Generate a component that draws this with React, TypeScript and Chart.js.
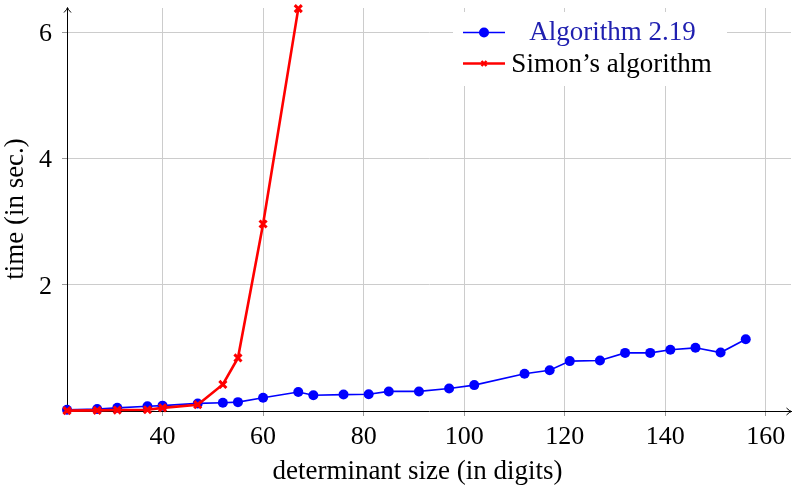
import React, { useEffect, useRef } from "react";
import { Chart, registerables } from "chart.js";
Chart.register(...registerables);

const algX = [21, 27, 31, 37, 40, 47, 52, 55, 60, 67, 70, 76, 81, 85, 91, 97, 102, 112, 117, 121, 127, 132, 137, 141, 146, 151, 156];
const algY = [0.02, 0.03, 0.05, 0.075, 0.085, 0.12, 0.13, 0.14, 0.21, 0.3, 0.25, 0.26, 0.265, 0.31, 0.31, 0.355, 0.41, 0.59, 0.645, 0.79, 0.8, 0.92, 0.92, 0.97, 1.0, 0.925, 1.135];
const simX = [21, 27, 31, 37, 40, 47, 52, 55, 60, 67];
const simY = [0.006, 0.01, 0.015, 0.02, 0.05, 0.1, 0.42, 0.84, 2.96, 6.37];
const xTicks = [40, 60, 80, 100, 120, 140, 160];
const yTicks = [2, 4, 6];
const seriesNames = ["Algorithm 2.19", "Simon\u2019s algorithm"];
const xTitle = "determinant size (in digits)";
const yTitle = "time (in sec.)";

const FONT = '"Liberation Serif", "Times New Roman", serif';
const BLUE = "#0000ff";
const RED = "#ff0000";

function drawCross(ctx: CanvasRenderingContext2D, x: number, y: number, r: number, lw: number) {
  ctx.save();
  ctx.strokeStyle = RED;
  ctx.lineWidth = lw;
  ctx.beginPath();
  ctx.moveTo(x - r, y - r);
  ctx.lineTo(x + r, y + r);
  ctx.moveTo(x - r, y + r);
  ctx.lineTo(x + r, y - r);
  ctx.stroke();
  ctx.restore();
}

const customPlugin = {
  id: "customDecor",
  afterDraw(chart: any) {
    const ctx: CanvasRenderingContext2D = chart.ctx;
    const xs = chart.scales.x;
    const ys = chart.scales.y;
    const ca = chart.chartArea;
    ctx.save();
    // arrows
    ctx.strokeStyle = "#000";
    ctx.lineWidth = 1;
    const bx = ca.right + 0.5;
    const by = Math.round(ca.bottom) + 0.5;
    ctx.beginPath();
    ctx.moveTo(bx - 5, by - 3.5);
    ctx.quadraticCurveTo(bx - 2, by - 0.5, bx, by);
    ctx.quadraticCurveTo(bx - 2, by + 0.5, bx - 5, by + 3.5);
    ctx.stroke();
    ctx.beginPath();
    ctx.moveTo(ca.right - 6, by);
    ctx.lineTo(bx, by);
    ctx.stroke();
    const lx = Math.round(ca.left) + 0.5;
    const ly = ca.top - 0.5;
    ctx.beginPath();
    ctx.moveTo(lx - 3.5, ly + 5);
    ctx.quadraticCurveTo(lx - 0.5, ly + 2, lx, ly);
    ctx.quadraticCurveTo(lx + 0.5, ly + 2, lx + 3.5, ly + 5);
    ctx.stroke();

    // tick labels
    ctx.fillStyle = "#000";
    ctx.font = `26px ${FONT}`;
    ctx.textAlign = "center";
    ctx.textBaseline = "alphabetic";
    xTicks.forEach((v) => {
      ctx.fillText(String(v), xs.getPixelForValue(v), 444);
    });
    ctx.textAlign = "right";
    yTicks.forEach((v) => {
      ctx.fillText(String(v), 52, ys.getPixelForValue(v) + 9);
    });

    // axis titles
    ctx.font = `27px ${FONT}`;
    ctx.textAlign = "center";
    ctx.fillText(xTitle, 417.5, 479);
    ctx.save();
    ctx.translate(23, 209);
    ctx.rotate(-Math.PI / 2);
    ctx.fillText(yTitle, 0, 0);
    ctx.restore();

    // legend
    ctx.fillStyle = "#ffffff";
    ctx.fillRect(453, 12, 274, 74);
    ctx.strokeStyle = BLUE;
    ctx.lineWidth = 1.6;
    ctx.beginPath();
    ctx.moveTo(463, 32.5);
    ctx.lineTo(505, 32.5);
    ctx.stroke();
    ctx.fillStyle = BLUE;
    ctx.beginPath();
    ctx.arc(484, 32.5, 5, 0, Math.PI * 2);
    ctx.fill();
    ctx.strokeStyle = RED;
    ctx.lineWidth = 2.6;
    ctx.beginPath();
    ctx.moveTo(463, 63.5);
    ctx.lineTo(505, 63.5);
    ctx.stroke();
    drawCross(ctx, 484, 63.5, 2.5, 2.4);
    ctx.font = `27px ${FONT}`;
    ctx.textAlign = "center";
    ctx.fillStyle = "#2020b0";
    ctx.fillText(seriesNames[0], 612.5, 39.5);
    ctx.fillStyle = "#000";
    ctx.fillText(seriesNames[1], 611.5, 71.5);
    ctx.restore();
  },
};

export default function App() {
  const ref = useRef<HTMLCanvasElement | null>(null);
  useEffect(() => {
    document.body.style.margin = "0";
    let chart: Chart | null = null;
    let cancelled = false;
    const make = () => {
      if (cancelled || !ref.current) return;
      chart = new Chart(ref.current, {
        type: "line",
        data: {
          datasets: [
            {
              label: seriesNames[0],
              data: algX.map((x, i) => ({ x, y: algY[i] })),
              borderColor: BLUE,
              backgroundColor: BLUE,
              borderWidth: 1.6,
              pointStyle: "circle",
              pointRadius: 5,
              pointBorderWidth: 0,
              pointBackgroundColor: BLUE,
              order: 1,
              clip: false as any,
              tension: 0,
            },
            {
              label: seriesNames[1],
              data: simX.map((x, i) => ({ x, y: simY[i] })),
              borderColor: RED,
              backgroundColor: RED,
              borderWidth: 2.6,
              pointStyle: "crossRot",
              pointRadius: 5,
              pointBorderWidth: 3,
              pointBorderColor: RED,
              order: 0,
              clip: false as any,
              tension: 0,
            },
          ],
        },
        options: {
          animation: false,
          responsive: false,
          events: [],
          layout: { padding: { top: 8, right: 1, left: 0, bottom: 0 } },
          plugins: { legend: { display: false }, tooltip: { enabled: false }, title: { display: false } },
          scales: {
            x: {
              type: "linear",
              min: 21,
              max: 165,
              afterBuildTicks: (s: any) => {
                s.ticks = xTicks.map((v) => ({ value: v }));
              },
              afterFit: (s: any) => {
                s.height = 79;
              },
              ticks: { display: false },
              grid: { color: "#cccccc", tickColor: "#9a9a9a", tickLength: 5, lineWidth: 1 },
              border: { display: true, color: "#000", width: 1 },
            },
            y: {
              type: "linear",
              min: 0,
              max: 6.38,
              afterBuildTicks: (s: any) => {
                s.ticks = yTicks.map((v) => ({ value: v }));
              },
              afterFit: (s: any) => {
                s.width = 67;
              },
              ticks: { display: false },
              grid: { color: "#cccccc", tickColor: "#9a9a9a", tickLength: 5, lineWidth: 1 },
              border: { display: true, color: "#000", width: 1 },
            },
          },
        },
        plugins: [customPlugin],
      });
    };
    const fontsAny: any = (document as any).fonts;
    if (fontsAny && fontsAny.load) {
      fontsAny.load(`27px "Liberation Serif"`).then(make, make);
    } else {
      make();
    }
    return () => {
      cancelled = true;
      if (chart) chart.destroy();
    };
  }, []);
  return (
    <div style={{ width: 799, height: 490 }}>
      <canvas ref={ref} width={799} height={490} style={{ display: "block" }} />
    </div>
  );
}
